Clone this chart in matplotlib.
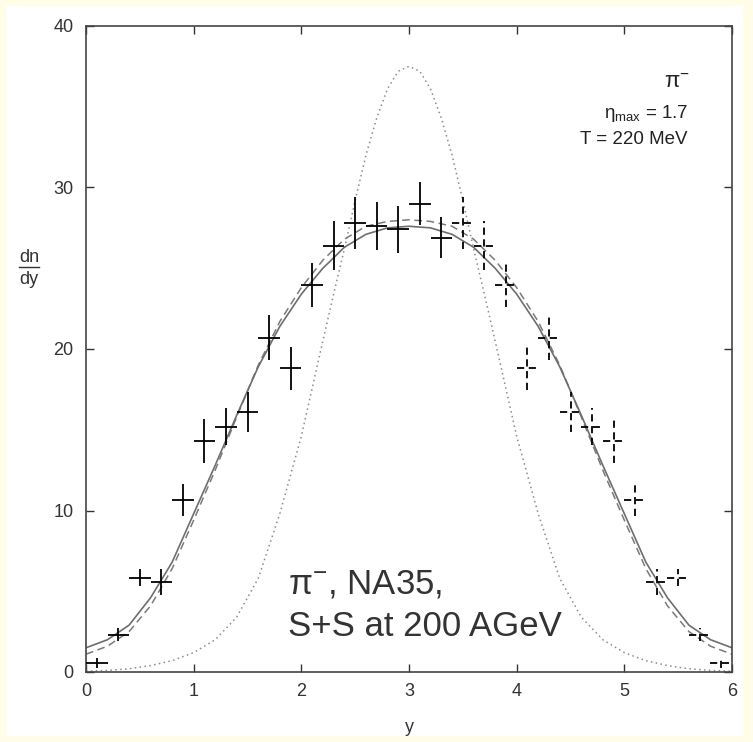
import matplotlib
matplotlib.use("Agg")
import matplotlib.pyplot as plt
from matplotlib import font_manager
from matplotlib.patches import Rectangle
from matplotlib.lines import Line2D

# ---------------- data ----------------
meas_y = [0.1, 0.3, 0.5, 0.7, 0.9, 1.1, 1.3, 1.5, 1.7, 1.9, 2.1, 2.3, 2.5, 2.7, 2.9, 3.1, 3.3]
meas_dndy = [0.55, 2.3, 5.85, 5.55, 10.65, 14.3, 15.2, 16.1, 20.7, 18.8, 23.95, 26.4, 27.8, 27.6, 27.4, 29.0, 26.9]
meas_err = [0.3, 0.4, 0.55, 0.8, 1.0, 1.35, 1.15, 1.25, 1.4, 1.35, 1.35, 1.5, 1.6, 1.5, 1.45, 1.35, 1.25]

refl_y = [3.5, 3.7, 3.9, 4.1, 4.3, 4.5, 4.7, 4.9, 5.1, 5.3, 5.5, 5.7, 5.9]
refl_dndy = [27.8, 26.4, 23.95, 18.8, 20.7, 16.1, 15.2, 14.3, 10.65, 5.55, 5.85, 2.3, 0.55]
refl_err = [1.6, 1.5, 1.35, 1.35, 1.4, 1.25, 1.15, 1.35, 1.0, 0.8, 0.55, 0.4, 0.3]
bin_half = 0.1

curve_y = [0.0, 0.2, 0.4, 0.6, 0.8, 1.0, 1.2, 1.4, 1.6, 1.8, 2.0, 2.2, 2.4, 2.6, 2.8, 3.0,
           3.2, 3.4, 3.6, 3.8, 4.0, 4.2, 4.4, 4.6, 4.8, 5.0, 5.2, 5.4, 5.6, 5.8, 6.0]
solid_fit = [1.5, 2.0, 2.9, 4.6, 6.8, 9.8, 12.8, 15.9, 18.9, 21.4, 23.4, 25.0, 26.3, 27.1, 27.5, 27.6,
             27.5, 27.1, 26.3, 25.0, 23.4, 21.4, 18.9, 15.9, 12.8, 9.8, 6.8, 4.6, 2.9, 2.0, 1.5]
dashed_fit = [1.1, 1.6, 2.5, 4.1, 6.4, 9.4, 12.5, 15.8, 19.0, 21.7, 23.8, 25.5, 26.8, 27.6, 27.9, 28.0,
              27.9, 27.6, 26.8, 25.5, 23.8, 21.7, 19.0, 15.8, 12.5, 9.4, 6.4, 4.1, 2.5, 1.6, 1.1]

dot_y = [0.0, 0.2, 0.4, 0.6, 0.8, 1.0, 1.2, 1.4, 1.6, 1.8, 2.0, 2.2, 2.3, 2.4, 2.5, 2.6, 2.7, 2.8, 2.9,
         3.0, 3.1, 3.2, 3.3, 3.4, 3.5, 3.6, 3.7, 3.8, 4.0, 4.2, 4.4, 4.6, 4.8, 5.0, 5.2, 5.4, 5.6, 5.8, 6.0]
dot_fit = [0.05, 0.1, 0.2, 0.4, 0.7, 1.2, 2.0, 3.4, 5.8, 9.8, 14.6, 20.5, 23.4, 26.2, 29.2, 32.0, 34.3, 36.1, 37.2,
           37.5, 37.2, 36.1, 34.3, 32.0, 29.2, 26.2, 23.4, 20.5, 14.6, 9.8, 5.8, 3.4, 2.0, 1.2, 0.7, 0.4, 0.2, 0.1, 0.05]

xticks = [0, 1, 2, 3, 4, 5, 6]
yticks = [0, 10, 20, 30, 40]

# ---------------- fonts ----------------
names = {f.name for f in font_manager.fontManager.ttflist}
narrow = "Liberation Sans Narrow" if "Liberation Sans Narrow" in names else "Liberation Sans"
plt.rcParams["mathtext.fontset"] = "custom"
plt.rcParams["mathtext.rm"] = narrow
plt.rcParams["font.family"] = [narrow, "DejaVu Sans"]

W, H = 753, 742
fig = plt.figure(figsize=(W / 100, H / 100), dpi=100, facecolor="#fffde8")
bg = Rectangle((6 / W, 1 - 736 / H), (743 - 6) / W, (736 - 6) / H,
               transform=fig.transFigure, facecolor="white", edgecolor="none", zorder=-10)
fig.add_artist(bg)

L, R, T, B = 86, 732, 26, 672
ax = fig.add_axes([L / W, 1 - B / H, (R - L) / W, (B - T) / H])
ax.set_zorder(1)
ax.set_facecolor("white")

ax.plot(dot_y, dot_fit, color="#8c8c8c", lw=1.1, linestyle=(0, (1, 2.2)), zorder=2)
ax.plot(curve_y, dashed_fit, color="#7a7a7a", lw=1.1, linestyle=(0, (5, 3)), zorder=2)
ax.plot(curve_y, solid_fit, color="#6e6e6e", lw=1.2, zorder=2)

ax.errorbar(meas_y, meas_dndy, yerr=meas_err, xerr=bin_half, fmt="none",
            ecolor="black", elinewidth=1.3, capsize=0, zorder=3)
eb = ax.errorbar(refl_y, refl_dndy, yerr=refl_err, xerr=bin_half, fmt="none",
                 ecolor="black", elinewidth=1.3, capsize=0, zorder=3)
for lc in eb[2]:
    lc.set_linestyle((0, (4, 2.5)))

ax.set_xlim(0, 6)
ax.set_ylim(0, 40)
ax.set_xticks(xticks)
ax.set_yticks(yticks)
ax.tick_params(direction="in", length=6, width=1.0, top=True, right=True,
               labelsize=13, colors="#333333", pad=8)
ax.tick_params(axis="y", pad=9)
for s in ax.spines.values():
    s.set_color("#444444")
    s.set_linewidth(1.2)

# axis labels
fig.text((L + R) / 2 / W, 1 - 727 / H, "y", ha="center", va="center", fontsize=13, color="#333333")
fig.text(29 / W, 1 - 257 / H, "dn", ha="center", va="center", fontsize=13, color="#333333")
fig.text(29 / W, 1 - 279 / H, "dy", ha="center", va="center", fontsize=13, color="#333333")
fig.add_artist(Line2D([19 / W, 39 / W], [1 - 267 / H, 1 - 267 / H], transform=fig.transFigure,
                      color="#333333", lw=1.0))

# annotations top right
fig.text(690 / W, 1 - 82 / H, r"$\mathregular{\pi^{-}}$", ha="right", va="center", fontsize=16, color="#222222")
fig.text(688 / W, 1 - 113 / H, r"$\mathregular{\eta_{max}}$ = 1.7", ha="right", va="center", fontsize=13.5, color="#222222")
fig.text(688 / W, 1 - 140 / H, "T = 220 MeV", ha="right", va="center", fontsize=13.5, color="#222222")

# big label
big = ["Liberation Sans", "DejaVu Sans"]
fig.text(288 / W, 1 - 584 / H, r"$\mathregular{\pi^{-}}$, NA35,", ha="left", va="center",
         fontsize=25, color="#333333", family=big)
fig.text(288 / W, 1 - 627 / H, "S+S at 200 AGeV", ha="left", va="center",
         fontsize=25, color="#333333", family=big)

fig.savefig("out.png", dpi=100, facecolor=fig.get_facecolor())
